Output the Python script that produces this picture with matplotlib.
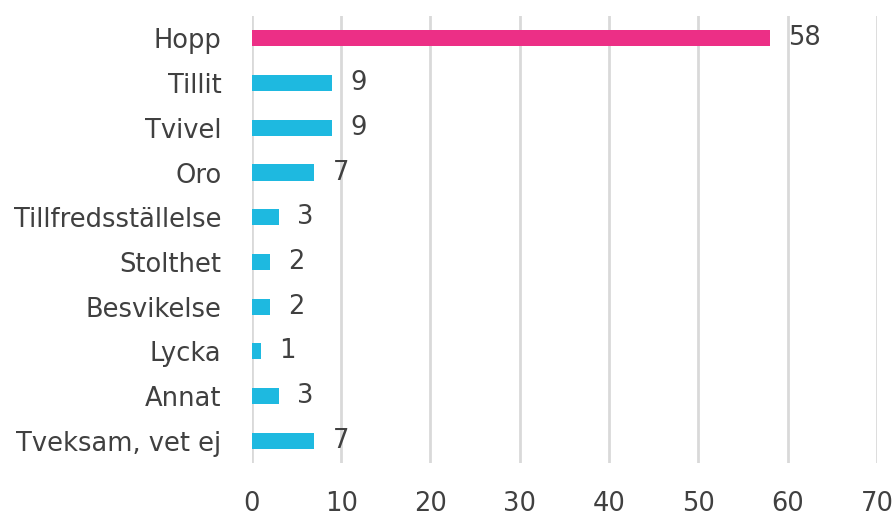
import matplotlib
matplotlib.use("Agg")
import matplotlib.pyplot as plt

categories = ["Hopp", "Tillit", "Tvivel", "Oro", "Tillfredsställelse",
              "Stolthet", "Besvikelse", "Lycka", "Annat", "Tveksam, vet ej"]
values = [58, 9, 9, 7, 3, 2, 2, 1, 3, 7]
bar_colors = ["#EC2F86"] + ["#1EB9E0"] * 9
xticks = [0, 10, 20, 30, 40, 50, 60, 70]

text_color = "#404040"
font = dict(family="DejaVu Sans")
fs = 18.5

fig = plt.figure(figsize=(8.93, 5.18), dpi=100, facecolor="white")
ax = fig.add_axes([0.282, 0.106, 0.700, 0.863])

y = list(range(len(categories)))
ax.barh(y, values, height=0.36, color=bar_colors, zorder=3)

for yi, v in zip(y, values):
    ax.annotate(str(v), (v, yi), xytext=(13, 0), textcoords="offset points",
                ha="left", va="center", fontsize=fs, color=text_color, **font)

ax.set_xlim(0, 70)
ax.set_ylim(len(categories) - 0.5, -0.5)
ax.set_xticks(xticks)
ax.set_xticklabels([str(t) for t in xticks], fontsize=fs, color=text_color, **font)
ax.set_yticks(y)
ax.set_yticklabels(categories, fontsize=fs, color=text_color, **font)
ax.tick_params(axis="both", length=0)
ax.tick_params(axis="x", pad=20)
ax.tick_params(axis="y", pad=22)

ax.grid(axis="x", color="#D9D9D9", linewidth=2, zorder=0)
ax.grid(axis="y", visible=False)
for s in ax.spines.values():
    s.set_visible(False)

plt.savefig("out.png", dpi=100, facecolor="white")
plt.close()
